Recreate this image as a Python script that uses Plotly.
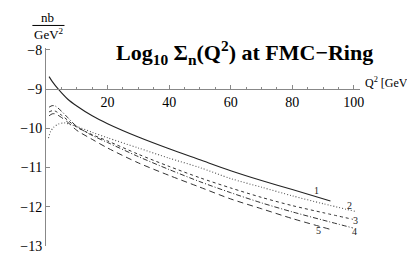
import plotly.graph_objects as go

# ---- data ----
q1 = [1, 2, 4, 7, 10, 15, 20, 30, 40, 50, 60, 70, 80, 92.4]
v1 = [-8.68, -8.80, -9.00, -9.25, -9.43, -9.68, -9.88, -10.22, -10.52, -10.80, -11.08, -11.33, -11.56, -11.85]

q2 = [0.8, 1.5, 2.5, 4, 6, 8, 10, 15, 20, 30, 40, 50, 60, 70, 80, 90, 100.6]
v2 = [-10.25, -10.08, -9.97, -9.89, -9.86, -9.90, -9.95, -10.10, -10.24, -10.50, -10.76, -11.00, -11.28, -11.50, -11.72, -11.92, -12.12]

q3 = [1, 2, 3, 5, 7, 10, 15, 20, 30, 40, 50, 60, 70, 80, 90, 99.7]
v3 = [-9.58, -9.55, -9.56, -9.66, -9.79, -9.97, -10.16, -10.32, -10.66, -10.97, -11.26, -11.52, -11.76, -11.97, -12.15, -12.32]

q4 = [1, 2, 3, 5, 7, 10, 15, 20, 30, 40, 50, 60, 70, 80, 90, 99.7]
v4 = [-9.46, -9.42, -9.43, -9.56, -9.72, -9.95, -10.18, -10.36, -10.72, -11.05, -11.36, -11.64, -11.90, -12.13, -12.34, -12.54]

q5 = [1, 2, 3, 5, 7, 10, 15, 20, 30, 40, 50, 60, 70, 80, 92.1]
v5 = [-9.68, -9.63, -9.63, -9.72, -9.84, -10.05, -10.28, -10.50, -10.88, -11.20, -11.50, -11.80, -12.05, -12.30, -12.57]

curve_labels = ["1", "2", "3", "4", "5"]
label_q = [88.0, 98.7, 100.6, 100.2, 88.6]
label_v = [-11.59, -11.96, -12.36, -12.64, -12.60]

x_ticks = [20, 40, 60, 80, 100]
y_ticks = [-8, -9, -10, -11, -12, -13]

title_text = "<b>Log<sub>10</sub> Σ<sub>n</sub>(Q<sup>2</sup>) at FMC−Ring</b>"
x_title = "Q<sup>2</sup> [GeV<sup>2</sup>]"

# ---- layout geometry ----
W, H = 415, 258
L, R, T, B = 29, 63, 40, 16
x_range = [0, 102]
y_range = [-13, -7.95]
x_axis_at = -9
PW, PH = W - L - R, H - T - B

def px_to_paper(px, py):
    return (px - L) / PW, (H - B - py) / PH

FONT = "Liberation Serif, Times New Roman, serif"

styles = [
    dict(dash="solid", width=1.1, color="#222"),
    dict(dash="1px,2px", width=1.1, color="#555"),
    dict(dash="3px,3px", width=1.0, color="#333"),
    dict(dash="5px,2px,1px,2px", width=1.0, color="#333"),
    dict(dash="6px,4px", width=1.0, color="#333"),
]

fig = go.Figure()
for (qq, vv), st in zip([(q1, v1), (q2, v2), (q3, v3), (q4, v4), (q5, v5)], styles):
    fig.add_trace(go.Scatter(x=qq, y=vv, mode="lines",
                             line=dict(shape="spline", smoothing=0.8, **st),
                             showlegend=False, hoverinfo="skip"))

for t, qx, vy in zip(curve_labels, label_q, label_v):
    fig.add_annotation(x=qx, y=vy, text=t, showarrow=False,
                       xanchor="center", yanchor="middle",
                       font=dict(family=FONT, size=10, color="#222"))

pos = (x_axis_at - y_range[0]) / (y_range[1] - y_range[0])

fig.update_layout(
    width=W, height=H,
    margin=dict(l=L, r=R, t=T, b=B, pad=0),
    paper_bgcolor="white", plot_bgcolor="white",
    font=dict(family=FONT, size=14, color="black"),
    xaxis=dict(range=x_range, showgrid=False, zeroline=False,
               showline=True, linecolor="#888", linewidth=1,
               anchor="free", position=pos,
               tickvals=x_ticks, ticks="inside", ticklen=4, tickcolor="#888",
               minor=dict(dtick=5, tick0=0, ticks="inside", ticklen=2, tickcolor="#888"),
               tickfont=dict(family=FONT, size=14)),
    yaxis=dict(range=y_range, showgrid=False, zeroline=False,
               showline=True, linecolor="#888", linewidth=1,
               tickvals=y_ticks, ticks="inside", ticklen=4, tickcolor="#888",
               tickfont=dict(family=FONT, size=14)),
)

def note(px, py, text, size, xanchor="center"):
    x, y = px_to_paper(px, py)
    fig.add_annotation(xref="paper", yref="paper", x=x, y=y, text=text,
                       showarrow=False, xanchor=xanchor, yanchor="middle",
                       font=dict(family=FONT, size=size, color="black"))

# title
note(99, 45, title_text, 22, xanchor="left")
# x axis title
note(355, 75, x_title, 12, xanchor="left")
# y unit fraction nb / GeV^2
note(31, 9, "nb", 13)
note(32, 26, "GeV<sup>2</sup>", 13)
x0, y0 = px_to_paper(15, 17)
x1, _ = px_to_paper(48, 17)
fig.add_shape(type="line", xref="paper", yref="paper", x0=x0, x1=x1, y0=y0, y1=y0,
              line=dict(color="black", width=1))

fig.write_html("out.html")
